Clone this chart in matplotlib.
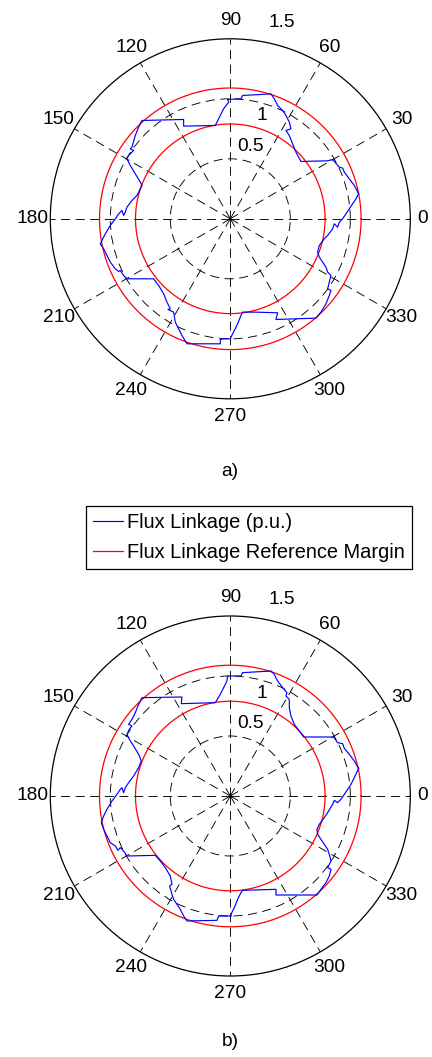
import numpy as np
import matplotlib
matplotlib.use('Agg')
import matplotlib.pyplot as plt

plt.rcParams['font.family'] = ['Liberation Sans', 'DejaVu Sans']
plt.rcParams['lines.scale_dashes'] = False

# ---------------- data (digitised flux linkage trajectory, 360 units = 1 p.u.) ----
SCALE = 360.0

a_alpha = [385, 372, 357, 342, 337, 327, 307, 292, 212, 197, 187, 177, 167, 182, 177, 167, 157, 142, 132, 122,
           92, 37, 32, -8, -5, -20, -30, -45, -140, -140, -265, -275, -285, -295, -300, -290, -305, -310, -300,
           -285, -270, -265, -270, -280, -295, -310, -315, -320, -325, -335, -345, -360, -375, -385, -390, -380,
           -370, -360, -345, -335, -330, -320, -310, -230, -215, -200, -190, -180, -187, -170, -165, -155, -145,
           -130, -30, -30, -20, 0, 2, 12, 22, 32, 37, 77, 142, 137, 257, 272, 287, 297, 302, 292, 297, 302, 292,
           287, 277, 267, 262, 267, 282, 292, 307, 312, 322, 327, 337, 347, 357, 367, 377, 385]
a_beta = [75, 100, 120, 140, 152, 155, 178, 174, 172, 200, 225, 250, 265, 270, 290, 310, 325, 340, 360, 375,
          373, 370, 360, 358, 350, 330, 310, 280, 278, 298, 295, 275, 250, 215, 210, 205, 190, 180, 160,
          135, 110, 100, 90, 70, 55, 35, 20, 10, 25, 15, 0, -20, -45, -65, -75, -90,
          -110, -130, -150, -158, -155, -170, -180, -180, -200, -225, -250, -270, -272, -280, -310, -330, -350,
          -375, -375, -362, -360, -360, -355, -335, -315, -290, -280, -280, -282, -302, -298, -280, -255, -230, -215, -210, -190, -170, -160,
          -145, -130, -115, -100, -80, -60, -50, -30, -15, -25, -10, 0, 15, 30, 45, 60, 75]

b_alpha = [385, 372, 357, 342, 337, 322, 310, 220, 207, 192, 182, 177, 177, 167, 170, 157, 142, 132, 122, 37,
           32, -8, -10, -20, -30, -45, -147, -145, -265, -275, -285, -295, -305, -295, -303, -310, -303, -290,
           -275, -267, -275, -290, -305, -315, -320, -325, -330, -340, -355, -370, -380, -387, -380, -370, -360,
           -345, -337, -330, -320, -310, -225, -210, -195, -180, -175, -182, -175, -170, -160, -150, -140, -130,
           -40, -35, 3, 2, 12, 22, 32, 37, 137, 137, 260, 272, 287, 297, 302, 292, 297, 302, 297, 292, 282, 272,
           262, 260, 267, 282, 292, 307, 312, 322, 332, 342, 352, 362, 372, 385]
b_beta = [83, 105, 125, 143, 157, 160, 177, 177, 195, 215, 240, 265, 290, 300, 310, 325, 345, 365, 375, 370,
          360, 360, 345, 325, 305, 280, 277, 297, 295, 275, 250, 230, 215, 210, 200, 185, 170, 150,
          125, 105, 85, 60, 40, 25, 10, 25, 20, 5, -15, -40, -60, -80, -100, -120, -140,
          -150, -163, -155, -165, -180, -178, -195, -215, -240, -265, -270, -295, -310, -325, -340, -360, -375,
          -373, -360, -360, -355, -335, -310, -290, -283, -280, -297, -297, -280, -260, -240, -220, -215, -205, -195, -175, -160, -145, -130,
          -115, -100, -85, -65, -50, -25, -13, -20, -10, 5, 20, 35, 55, 83]

margin_inner = 0.79
margin_outer = 1.09
r_max = 1.5
r_grid = [0.5, 1.0]
r_tick_text = ['0.5', '1', '1.5']
r_label_pos = [(74.5, 0.623), (73.2, 0.896), (75.3, 1.689)]  # (deg, r)
theta_ticks = list(range(0, 360, 30))
panel_labels = ['a)', 'b)']
legend_labels = ['Flux Linkage (p.u.)', 'Flux Linkage Reference Margin']

# ---------------- figure ----------------
W, H = 432, 1057
fig = plt.figure(figsize=(W / 100, H / 100), dpi=100)
fig.patch.set_facecolor('white')

R_PX = 180.0
panels = [
    dict(cx=230.3, cy=218.8, alpha=a_alpha, beta=a_beta, label=panel_labels[0], ly=471),
    dict(cx=230.3, cy=796.0, alpha=b_alpha, beta=b_beta, label=panel_labels[1], ly=1042),
]

FS = 13.8
dash = (0, (6.5, 4.0))
theta_c = np.linspace(0, 2 * np.pi, 721)

handles = None
for p in panels:
    left = (p['cx'] - R_PX) / W
    bottom = 1 - (p['cy'] + R_PX) / H
    ax = fig.add_axes([left, bottom, 2 * R_PX / W, 2 * R_PX / H], projection='polar')
    ax.set_theta_zero_location('E')
    ax.set_theta_direction(1)
    ax.set_ylim(0, r_max)
    ax.set_yticks(r_grid)
    ax.set_yticklabels([])
    ax.set_xticks(np.deg2rad(theta_ticks))
    ax.set_xticklabels([])
    ax.tick_params(length=0)
    ax.grid(True, color='k', linestyle=dash, linewidth=0.65)
    ax.spines['polar'].set_color('k')
    ax.spines['polar'].set_linewidth(0.9)
    ax.set_facecolor('white')

    al = np.array(p['alpha'], dtype=float) / SCALE
    be = np.array(p['beta'], dtype=float) / SCALE
    th = np.unwrap(np.arctan2(be, al))
    rr = np.hypot(al, be)

    l_in, = ax.plot(theta_c, np.full_like(theta_c, margin_inner), color='#ff0000', lw=0.9, zorder=3)
    ax.plot(theta_c, np.full_like(theta_c, margin_outer), color='#ff0000', lw=0.9, zorder=3)
    l_flux, = ax.plot(th, rr, color='#0000ff', lw=0.85, zorder=4)

    for t in theta_ticks:
        rl = 1.6 if t == 0 else 1.65
        ax.text(np.deg2rad(t), rl, str(t), ha='center', va='center', fontsize=FS, clip_on=False)
    for (deg, r), txt in zip(r_label_pos, r_tick_text):
        ax.text(np.deg2rad(deg), r, txt, ha='center', va='center', fontsize=FS, clip_on=False)

    fig.text(p['cx'] / W, 1 - p['ly'] / H, p['label'], ha='center', va='center', fontsize=FS)
    if handles is None:
        handles = [l_flux, l_in]

leg = fig.legend(handles, legend_labels, loc='upper left',
                 bbox_to_anchor=(86 / W, 1 - 506 / H), bbox_transform=fig.transFigure,
                 borderaxespad=0, frameon=True, fancybox=False, edgecolor='k', framealpha=1,
                 handlelength=1.5, handletextpad=0.2, borderpad=0.35, labelspacing=0.55,
                 fontsize=14.4)
leg.get_frame().set_linewidth(0.9)

fig.savefig('out.png', dpi=100, facecolor='white')
